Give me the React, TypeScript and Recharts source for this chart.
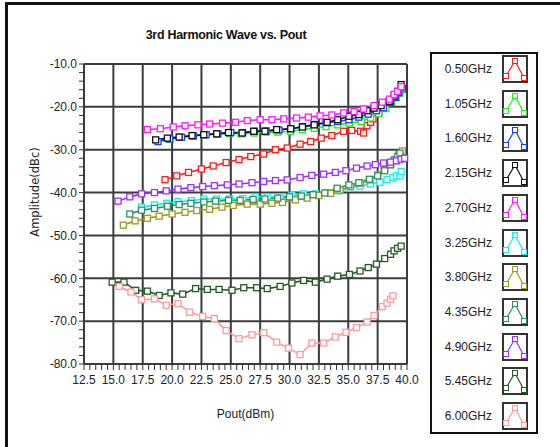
import React from 'react';
import { LineChart, Line, XAxis, YAxis, ReferenceLine, Label } from 'recharts';

// [Pout (dBm), amplitude (dBc)] per frequency
const s050 = [[19.4,-37.0],[20.4,-36.1],[21.4,-35.3],[22.5,-34.5],[23.5,-33.8],[24.6,-33.0],[25.7,-32.3],[26.7,-31.6],[27.8,-31.0],[28.8,-30.0],[29.8,-29.6],[30.9,-28.7],[31.8,-28.1],[32.7,-27.3],[33.6,-26.7],[34.6,-25.7],[35.3,-25.5],[36.05,-25.7],[36.3,-26.1],[36.6,-24.4],[36.9,-23.6],[37.1,-22.8],[37.6,-21.4],[38.1,-20.2],[38.6,-18.8],[39.0,-17.6],[39.3,-16.7],[39.6,-15.9]];
const s105 = [[19.7,-27.5],[20.7,-27.1],[21.8,-26.7],[22.8,-26.5],[23.8,-26.3],[24.9,-26.2],[25.9,-26.3],[27.0,-26.1],[28.0,-25.9],[29.0,-25.9],[30.1,-25.7],[31.1,-25.3],[32.1,-25.0],[33.1,-24.6],[34.1,-24.2],[35.1,-23.8],[36.1,-23.4],[36.9,-22.6],[37.6,-21.6],[38.2,-20.4],[38.7,-19.0],[39.1,-17.8],[39.4,-16.8],[39.6,-16.0]];
const s160 = [[18.8,-28.1],[19.8,-27.5],[20.8,-27.1],[21.8,-26.8],[22.9,-26.5],[23.9,-26.3],[25.0,-26.0],[26.0,-26.0],[27.0,-25.7],[28.0,-25.6],[29.1,-25.4],[30.1,-25.1],[31.1,-24.6],[32.1,-24.1],[33.1,-23.7],[34.1,-23.4],[35.05,-23.0],[35.9,-22.4],[36.7,-21.7],[37.4,-20.9],[38.0,-20.2],[38.6,-19.0],[39.0,-17.8],[39.3,-16.7],[39.6,-15.6]];
const s215 = [[18.6,-27.7],[19.6,-27.3],[20.6,-27.05],[21.7,-26.7],[22.7,-26.5],[23.8,-26.3],[24.8,-26.0],[25.96,-26.1],[26.95,-25.7],[27.9,-25.7],[28.9,-25.3],[30.1,-25.1],[31.1,-24.7],[32.1,-24.2],[33.2,-23.6],[34.1,-23.0],[35.05,-22.2],[35.9,-21.8],[36.6,-20.9],[37.2,-20.3],[37.8,-19.7],[38.5,-18.7],[38.9,-17.5],[39.2,-16.4],[39.5,-14.8]];
const s270 = [[17.9,-25.3],[19.0,-25.1],[20.1,-24.7],[21.1,-24.4],[22.2,-24.2],[23.2,-24.0],[24.3,-23.8],[25.4,-23.6],[26.4,-23.2],[27.5,-23.0],[28.5,-23.0],[29.5,-22.8],[30.6,-22.6],[31.6,-22.4],[32.6,-22.1],[33.6,-21.9],[34.6,-21.4],[35.5,-21.1],[36.3,-20.5],[37.2,-19.7],[37.9,-18.9],[38.5,-18.2],[38.9,-17.1],[39.2,-16.4],[39.5,-15.3]];
const s325 = [[17.4,-43.4],[18.5,-42.9],[19.55,-42.5],[20.5,-42.1],[21.65,-41.9],[22.7,-41.5],[23.8,-41.5],[24.9,-41.5],[26.0,-41.4],[27.1,-41.0],[28.1,-41.0],[29.2,-41.0],[30.2,-40.6],[31.2,-40.3],[32.2,-40.3],[33.2,-40.0],[34.2,-39.6],[35.05,-39.0],[36.0,-38.5],[36.9,-38.0],[37.7,-37.6],[38.3,-37.0],[38.8,-36.5],[39.1,-36.1],[39.4,-36.1],[39.5,-35.1]];
const s380 = [[15.85,-47.6],[16.85,-46.6],[17.9,-46.0],[18.9,-45.5],[20.0,-45.0],[21.1,-44.6],[22.1,-44.2],[23.2,-43.9],[24.25,-43.4],[25.2,-43.0],[26.4,-42.7],[27.5,-42.7],[28.5,-42.5],[29.4,-42.3],[30.5,-41.7],[31.5,-41.3],[32.5,-40.7],[33.5,-40.2],[34.3,-39.4],[35.2,-38.6],[36.05,-37.8],[36.8,-37.05],[37.5,-35.9],[38.05,-34.7],[38.6,-33.5],[39.0,-32.4],[39.3,-31.2],[39.6,-30.3]];
const s435 = [[16.4,-45.0],[17.4,-44.1],[18.5,-43.7],[19.6,-43.2],[20.6,-42.8],[21.6,-42.5],[22.7,-42.2],[23.7,-42.0],[24.8,-41.8],[25.8,-41.8],[26.9,-41.6],[27.9,-41.5],[29.0,-41.3],[30.0,-41.0],[31.0,-40.8],[32.0,-40.5],[33.0,-40.1],[34.05,-39.0],[35.05,-38.2],[35.9,-37.7],[36.8,-36.9],[37.5,-36.1],[38.1,-34.9],[38.6,-33.5],[38.9,-32.4],[39.2,-31.6],[39.4,-30.8]];
const s490 = [[15.4,-42.0],[16.4,-41.0],[17.4,-40.3],[18.5,-40.0],[19.5,-39.6],[20.5,-39.2],[21.6,-38.85],[22.6,-38.6],[23.6,-38.4],[24.7,-38.2],[25.7,-38.0],[26.8,-37.7],[27.8,-37.4],[28.8,-37.2],[29.8,-37.05],[30.9,-36.5],[31.9,-36.0],[32.9,-35.7],[33.9,-35.3],[34.8,-34.9],[35.7,-34.3],[36.6,-33.8],[37.3,-33.5],[38.0,-33.1],[38.6,-32.9],[39.1,-32.6],[39.5,-32.2],[39.8,-32.0]];
const s545 = [[14.9,-60.9],[15.9,-60.9],[16.9,-62.8],[17.9,-63.0],[18.9,-64.0],[19.9,-63.4],[20.9,-63.7],[22.0,-62.4],[23.0,-62.6],[24.0,-62.6],[25.1,-62.8],[26.1,-62.2],[27.2,-62.2],[28.1,-62.4],[29.2,-61.9],[30.2,-61.1],[31.2,-60.5],[32.2,-60.9],[33.2,-60.2],[34.1,-59.5],[35.1,-59.1],[36.0,-58.3],[36.7,-57.5],[37.4,-56.7],[38.1,-55.4],[38.6,-54.4],[38.9,-53.6],[39.2,-53.0],[39.5,-52.5]];
const s600 = [[15.5,-61.9],[16.5,-63.2],[17.4,-65.0],[18.5,-64.8],[19.5,-66.3],[20.5,-65.9],[21.5,-67.9],[22.6,-68.9],[23.6,-69.4],[24.6,-72.2],[25.7,-74.1],[26.8,-73.2],[27.8,-72.7],[28.9,-74.9],[29.9,-76.3],[30.9,-77.8],[31.9,-75.1],[32.9,-75.1],[33.9,-73.7],[34.8,-72.6],[35.7,-71.5],[36.6,-70.2],[37.2,-68.7],[37.9,-66.6],[38.3,-65.8],[38.6,-64.9],[38.8,-64.1]];

const freqs = ['0.50GHz', '1.05GHz', '1.60GHz', '2.15GHz', '2.70GHz', '3.25GHz', '3.80GHz', '4.35GHz', '4.90GHz', '5.45GHz', '6.00GHz'];
const seriesData = [s050, s105, s160, s215, s270, s325, s380, s435, s490, s545, s600];
const colors = ['#ff1a1a', '#22ee22', '#1a3cff', '#111111', '#ff1aff', '#10f0f0', '#9c9a20', '#2e9060', '#9b30ff', '#245a24', '#ff9a9a'];

const xMajor = [12.5, 15, 17.5, 20, 22.5, 25, 27.5, 30, 32.5, 35, 37.5, 40];
const yMajor = [-80, -70, -60, -50, -40, -30, -20, -10];

// minor ticks: 4 between each major
const xTicks = xMajor.flatMap((v, i) => (i === 0 ? [v] : [1, 2, 3, 4, 5].map((k) => xMajor[i - 1] + k * 0.5)));
const yTicks = yMajor.flatMap((v, i) => (i === 0 ? [v] : [1, 2, 3, 4, 5].map((k) => yMajor[i - 1] + k * 2)));

const FONT = '"Liberation Sans", Arial, sans-serif';
const GRID = '#3c3c3c';

const squareDot = (color: string) => (p: any) => {
  if (p.cx == null || p.cy == null) return <g key={p.index} />;
  return (
    <rect key={p.index} x={p.cx - 3} y={p.cy - 3} width={6} height={6}
      fill="#fff" stroke={color} strokeWidth={1.3} />
  );
};

const Swatch = ({ color }: { color: string }) => (
  <svg width={26} height={28} style={{ display: 'block' }}>
    <rect x={1} y={1} width={24} height={26} fill="#fff" stroke="#333" strokeWidth={2} />
    <polyline points="4,21 13,6 22,23" fill="none" stroke={color} strokeWidth={1.2} />
    {[[4, 21], [13, 6], [22, 23]].map(([x, y], i) => (
      <rect key={i} x={x - 2.5} y={y - 2.5} width={5} height={5} fill="#fff" stroke={color} strokeWidth={1} />
    ))}
  </svg>
);

export default function App() {
  return (
    <div style={{ position: 'absolute', left: 0, top: 0, width: 560, height: 447, overflow: 'hidden', background: '#fff', fontFamily: FONT }}>
      <div style={{ position: 'absolute', left: 5, top: 2, width: 620, height: 520, border: '3px solid #111' }} />
      <div style={{ position: 'absolute', left: 0, top: 28, width: 452, textAlign: 'center', fontWeight: 'bold', fontSize: 12.5, letterSpacing: -0.3, color: '#111' }}>
        3rd Harmonic Wave vs. Pout
      </div>
      <div style={{ position: 'absolute', left: 0, top: 0 }}>
        <LineChart width={430} height={447} margin={{ top: 64, right: 23, bottom: 33, left: 0 }}>
          <XAxis type="number" dataKey="x" domain={[12.5, 40]} ticks={xTicks} interval={0}
            tickFormatter={(v: number) => (xMajor.includes(v) ? v.toFixed(1) : '')}
            tick={{ fontSize: 12, fill: '#222', fontFamily: FONT }} tickSize={6} tickMargin={5}
            tickLine={{ stroke: '#333' }} axisLine={{ stroke: GRID, strokeWidth: 2 }} height={50}>
            <Label value="Pout(dBm)" position="insideBottom" offset={-4} style={{ fontSize: 12, fill: '#222', fontFamily: FONT }} />
          </XAxis>
          <YAxis type="number" domain={[-80, -10]} ticks={yTicks} interval={0} width={84}
            tickFormatter={(v: number) => (v % 10 === 0 ? v.toFixed(1) : '')}
            tick={{ fontSize: 12, fill: '#222', fontFamily: FONT }} tickSize={5} tickMargin={2}
            tickLine={{ stroke: '#333' }} axisLine={{ stroke: GRID, strokeWidth: 2 }}>
            <Label value="Amplitude(dBc)" angle={-90} position="insideLeft" offset={35} dy={-22}
              style={{ textAnchor: 'middle', fontSize: 11.5, fill: '#222', fontFamily: '"DejaVu Sans", sans-serif' }} />
          </YAxis>
          {xMajor.map((v) => (
            <ReferenceLine key={'x' + v} x={v} stroke={GRID} strokeWidth={2} />
          ))}
          {yMajor.map((v) => (
            <ReferenceLine key={'y' + v} y={v} stroke={GRID} strokeWidth={2} />
          ))}
          {seriesData.map((s, i) => (
            <Line key={freqs[i]} name={freqs[i]} data={s.map(([x, y]) => ({ x, y }))} dataKey="y"
              stroke={colors[i]} strokeWidth={1.6} dot={squareDot(colors[i])}
              isAnimationActive={false} />
          ))}
        </LineChart>
      </div>
      <div style={{ position: 'absolute', left: 430, top: 52, width: 104, height: 378, border: '2px solid #111', background: '#fff' }}>
        {freqs.map((f, i) => (
          <div key={f} style={{ position: 'absolute', left: 0, top: 1 + i * 34.7, width: 96, height: 28, display: 'flex', alignItems: 'center', justifyContent: 'flex-end' }}>
            <span style={{ fontSize: 12, color: '#222', marginRight: 10 }}>{f}</span>
            <Swatch color={colors[i]} />
          </div>
        ))}
      </div>
    </div>
  );
}
